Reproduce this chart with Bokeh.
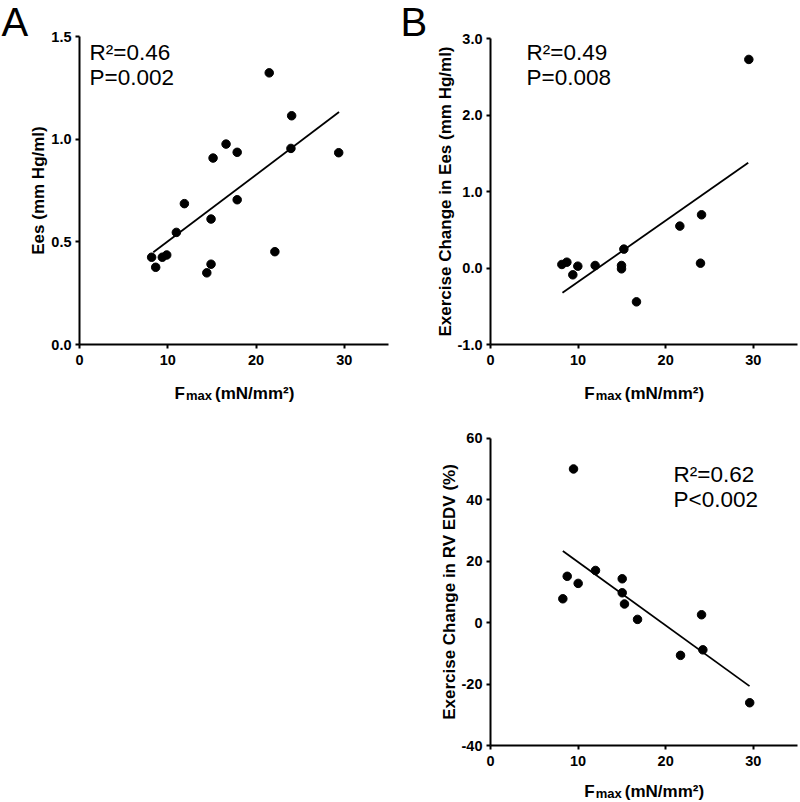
import numpy as np
from bokeh.plotting import figure
from bokeh.layouts import row, column
from bokeh.models import Range1d, FixedTicker, NumeralTickFormatter, Label
from bokeh.embed import file_html
from bokeh.resources import INLINE

# ---------------- data ----------------
# Panel A: Ees vs Fmax
a_fmax = [8.17, 8.63, 9.38, 9.88, 10.97, 11.88, 14.42, 14.9, 14.9, 15.13,
          16.6, 17.86, 17.86, 21.49, 22.13, 23.95, 24.03, 29.36]
a_ees = [0.425, 0.376, 0.425, 0.436, 0.546, 0.686, 0.349, 0.391, 0.611, 0.908,
         0.976, 0.936, 0.705, 1.323, 0.452, 0.955, 1.114, 0.934]
a_fit_x = [8.36, 29.4]
a_fit_y = [0.449, 1.132]

# Panel B: exercise change in Ees vs Fmax
b_fmax = [8.15, 8.72, 9.4, 9.97, 11.95, 14.96, 14.96, 15.23, 16.67, 21.62, 24.1, 23.98, 29.5]
b_dees = [0.047, 0.077, -0.088, 0.025, 0.034, 0.034, -0.01, 0.248, -0.442, 0.549, 0.697, 0.064, 2.73]
b_fit_x = [8.22, 29.43]
b_fit_y = [-0.324, 1.377]

# Panel C: exercise change in RV EDV (%) vs Fmax
c_fmax = [8.26, 8.76, 9.48, 10.01, 11.99, 15.04, 15.04, 15.3, 16.79, 21.7, 24.1, 24.25, 29.6]
c_dedv = [7.8, 15.1, 50.0, 12.8, 17.0, 14.3, 9.75, 6.1, 1.1, -10.6, 2.6, -8.8, -26.0]
c_fit_x = [8.26, 29.58]
c_fit_y = [23.3, -20.6]

x_lim = (0, 35)
x_ticks = [0, 10, 20, 30]
a_ylim = (0.0, 1.5)
a_yticks = [0.0, 0.5, 1.0, 1.5]
b_ylim = (-1.0, 3.0)
b_yticks = [-1.0, 0.0, 1.0, 2.0, 3.0]
c_ylim = (-40, 60)
c_yticks = [-40, -20, 0, 20, 40, 60]

FONT = "Liberation Sans"


def make_panel(xs, ys, fx, fy, ylim, yticks, yfmt, ylabel, stats, stat_off,
               letter, W, H, box, xlabel_drop):
    # box = plot-area (left, top, right, bottom) in canvas pixels
    L, T, R, B = box
    sx = (x_lim[1] - x_lim[0]) / (R - L)
    sy = (ylim[1] - ylim[0]) / (B - T)
    xr = Range1d(x_lim[0] - L * sx, x_lim[1] + (W - R) * sx)
    yr = Range1d(ylim[0] - (H - B) * sy, ylim[1] + T * sy)
    p = figure(width=W, height=H, output_backend="svg", toolbar_location=None,
               title=None, x_range=xr, y_range=yr,
               min_border_left=0, min_border_right=0,
               min_border_top=0, min_border_bottom=0)
    p.outline_line_color = None
    p.xgrid.visible = False
    p.ygrid.visible = False
    p.background_fill_color = "white"
    p.border_fill_color = "white"
    for ax in (p.xaxis[0], p.yaxis[0]):
        ax.axis_line_width = 2
        ax.axis_line_color = "black"
        ax.major_tick_line_width = 2
        ax.major_tick_line_color = "black"
        ax.major_tick_out = 4
        ax.major_tick_in = 0
        ax.minor_tick_line_color = None
        ax.major_label_text_font = FONT
        ax.major_label_text_font_style = "bold"
        ax.major_label_text_font_size = "14.5px"
        ax.major_label_text_color = "black"
    p.xaxis.fixed_location = ylim[0]
    p.xaxis.bounds = x_lim
    p.yaxis.fixed_location = x_lim[0]
    p.yaxis.bounds = ylim
    p.xaxis.ticker = FixedTicker(ticks=x_ticks)
    p.xaxis.major_label_standoff = 6
    p.yaxis.ticker = FixedTicker(ticks=yticks)
    p.yaxis.formatter = NumeralTickFormatter(format=yfmt)
    p.yaxis.major_label_standoff = 4
    p.yaxis.axis_label = ylabel
    p.yaxis.axis_label_text_font = FONT
    p.yaxis.axis_label_text_font_style = "bold"
    p.yaxis.axis_label_text_font_size = "17px"
    p.yaxis.axis_label_text_color = "black"
    p.yaxis.axis_label_standoff = 0

    p.line(fx, fy, line_color="black", line_width=1.8)
    p.scatter(xs, ys, size=8.5, fill_color="black", line_color="black")

    x0, y0 = x_lim[0], ylim[1]
    # statistics text
    for i, s in enumerate(stats):
        p.add_layout(Label(x=x0, y=y0, x_offset=stat_off[0], y_offset=-(stat_off[1] + 25 * i) + 6,
                           text=s, text_font=FONT, text_font_size="22.5px",
                           text_color="black", text_baseline="alphabetic", text_align="left"))
    # x-axis label with subscript
    cx = (x_lim[0] + x_lim[1]) / 2
    yb = ylim[0]
    p.add_layout(Label(x=cx, y=yb, x_offset=-49, y_offset=-xlabel_drop + 5, text="F",
                       text_font=FONT, text_font_style="bold", text_font_size="17px",
                       text_color="black", text_baseline="alphabetic", text_align="right"))
    p.add_layout(Label(x=cx, y=yb, x_offset=-48, y_offset=-(xlabel_drop + 2) + 5, text="max",
                       text_font=FONT, text_font_style="bold", text_font_size="13px",
                       text_color="black", text_baseline="alphabetic", text_align="left"))
    p.add_layout(Label(x=cx, y=yb, x_offset=-19, y_offset=-xlabel_drop + 5, text="(mN/mm²)",
                       text_font=FONT, text_font_style="bold", text_font_size="17px",
                       text_color="black", text_baseline="alphabetic", text_align="left"))
    if letter:
        p.add_layout(Label(x=x0, y=y0, x_offset=letter[0], y_offset=letter[1], text=letter[2],
                           text_font=FONT, text_font_size="40px", text_color="black",
                           text_baseline="alphabetic", text_align="left"))
    return p


pA = make_panel(a_fmax, a_ees, a_fit_x, a_fit_y, a_ylim, a_yticks, "0.0",
                "Ees (mm Hg/ml)", ["R²=0.46", "P=0.002"], (10, 21.8),
                (-78, 15, "A"), 400, 410, (79, 36, 388, 344), 54)
pB = make_panel(b_fmax, b_dees, b_fit_x, b_fit_y, b_ylim, b_yticks, "0.0",
                "Exercise Change in Ees (mm Hg/ml)", ["R²=0.49", "P=0.008"], (36, 20),
                (-90, 17, "B"), 400, 410, (90, 38.3, 396.5, 344), 54)
pC = make_panel(c_fmax, c_dedv, c_fit_x, c_fit_y, c_ylim, c_yticks, "0",
                "Exercise Change in RV EDV (%)", ["R²=0.62", "P<0.002"], (183, 42.3),
                None, 400, 392, (90, 27.7, 396.5, 335.3), 51)

layout = row(pA, column(pB, pC))
open("out.html", "w").write(file_html(layout, INLINE))
